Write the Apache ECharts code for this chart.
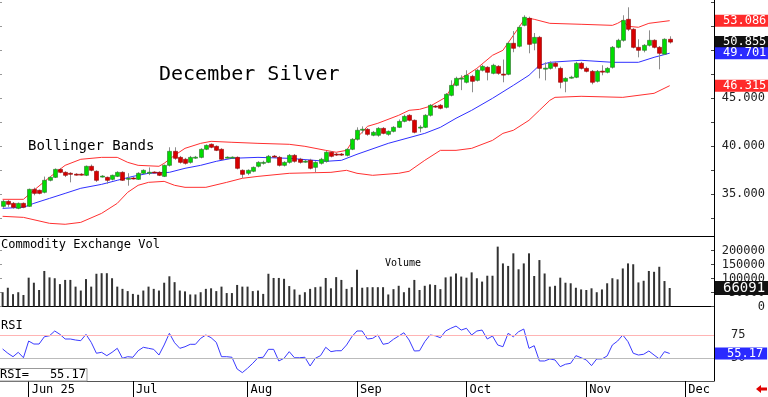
<!DOCTYPE html>
<html>
<head>
<meta charset="utf-8">
<script src="https://cdn.jsdelivr.net/npm/echarts@6/dist/echarts.min.js"></script>
<style>
html, body { margin: 0; padding: 0; background: #fff; }
#chart { width: 768px; height: 397px; }
</style>
</head>
<body>
<div id="chart"></div>
<script>
var MONO = 'DejaVu Sans Mono';

// daily candles, May 23 .. Nov 25 : [open, close, low, high]
var candles = [
  [33.75,34.27,33.6,34.4],[34.27,33.96,33.7,34.4],[34.06,33.65,33.5,34.2],[33.54,34.06,33.45,34.15],[34.06,33.65,33.55,34.15],
  [33.75,35.52,33.7,35.6],[35.52,35.10,34.9,35.7],[35.42,35.10,35.0,35.5],[35.21,36.46,35.1,36.85],[36.46,36.77,36.35,36.9],
  [36.77,37.60,36.7,37.7],[37.60,37.29,37.2,37.75],[37.29,36.98,36.8,37.4],[37.19,37.10,36.25,37.3],[37.10,37.05,36.95,37.2],
  [37.10,37.05,36.95,37.2],[36.98,37.92,36.9,38.0],[37.92,37.50,37.4,38.1],[37.40,36.46,36.3,37.5],[36.85,36.90,36.75,37.0],
  [36.77,36.46,36.1,36.85],[36.56,36.98,36.45,37.05],[36.87,37.29,36.8,37.4],[37.29,36.46,36.4,37.4],[36.65,36.67,35.9,37.2],
  [36.70,36.65,36.55,36.8],[36.56,37.19,36.5,37.3],[37.19,37.50,37.1,37.6],[37.28,37.30,37.0,37.8],[37.32,37.28,37.2,37.4],
  [37.29,36.98,36.9,37.4],[36.87,38.02,36.8,38.1],[38.02,39.48,37.9,39.9],[39.48,38.75,38.6,39.9],[38.85,38.33,38.2,39.0],
  [38.65,38.23,38.1,38.8],[38.33,38.85,38.2,39.0],[38.85,38.87,38.7,39.0],[38.85,39.69,38.75,39.8],[39.69,40.10,39.6,40.2],
  [40.21,39.90,39.8,40.3],[40.00,39.58,39.5,40.1],[39.69,38.65,38.55,39.8],[38.83,38.87,38.75,38.95],[38.83,38.87,38.75,38.95],
  [38.85,37.71,37.6,38.95],[37.50,37.08,36.7,37.6],[37.19,37.50,37.0,37.6],[37.40,37.81,37.3,37.9],[37.92,38.33,37.8,38.45],
  [38.23,38.33,38.1,38.5],[38.33,38.96,38.25,39.1],[38.98,38.94,38.8,39.1],[38.85,38.02,37.9,39.0],[38.02,38.33,37.9,38.45],
  [38.33,39.06,38.2,39.2],[39.06,38.44,38.3,39.2],[38.65,38.33,38.2,38.8],[38.43,38.45,38.3,38.6],[38.54,37.71,37.6,38.7],
  [37.81,38.33,37.29,38.45],[38.23,38.65,38.1,38.8],[38.44,39.38,38.3,39.5],[39.38,38.96,38.85,39.5],[39.19,39.15,39.0,39.3],
  [39.19,39.15,39.0,39.3],[39.06,39.69,38.95,39.8],[39.69,40.73,39.6,40.85],[40.73,41.67,40.6,41.98],[41.75,41.78,41.35,42.08],
  [41.77,41.25,41.1,41.9],[41.15,41.46,41.05,41.6],[41.15,41.87,41.0,42.0],[41.87,41.35,41.25,42.0],[41.25,41.56,41.1,41.65],
  [41.56,41.98,41.45,42.1],[41.98,42.60,41.9,42.8],[42.60,43.12,42.5,43.3],[43.23,42.71,42.6,43.35],[42.71,41.46,41.35,42.8],
  [41.97,42.00,41.46,42.2],[41.98,43.23,41.9,43.35],[43.23,44.27,43.1,44.4],[44.19,44.15,44.0,44.3],[44.27,43.96,43.85,44.4],
  [44.06,45.42,43.95,45.55],[45.31,46.35,45.2,46.87],[46.35,47.08,46.25,47.25],[47.06,47.10,45.85,47.4],[46.67,47.40,46.55,47.92],
  [47.29,46.77,45.63,47.45],[46.87,47.92,46.75,48.05],[47.92,48.33,47.8,48.5],[48.23,47.71,46.87,48.35],[47.60,48.44,47.5,48.6],
  [48.33,47.60,47.45,48.45],[47.52,47.48,46.67,49.04],[47.50,50.73,47.4,50.9],[50.73,50.21,49.8,52.0],[50.42,52.40,50.3,52.6],
  [52.60,53.44,52.5,53.65],[53.33,50.62,49.69,53.5],[50.73,51.35,50.0,51.8],[51.35,48.12,47.08,51.5],[48.10,48.14,46.87,48.75],
  [48.12,48.65,48.0,48.85],[48.65,48.33,48.1,48.8],[48.12,46.67,46.04,48.3],[46.77,47.08,45.63,47.2],[47.17,47.20,47.05,47.35],
  [47.19,48.65,47.1,48.8],[48.65,48.12,48.0,48.8],[48.12,47.81,47.7,48.3],[47.81,46.67,46.46,47.95],[46.77,47.81,46.65,47.95],
  [47.83,47.79,47.4,48.44],[47.71,48.12,47.6,48.25],[48.23,50.31,48.1,50.45],[50.31,51.04,50.2,51.2],[51.04,53.12,50.9,53.65],
  [53.23,52.19,52.0,54.48],[52.19,50.31,50.2,52.3],[50.31,50.00,49.27,51.15],[50.00,50.52,49.79,50.65],[50.52,51.04,50.4,52.08],
  [51.04,50.31,50.2,51.15],[50.31,49.69,48.02,50.45],[49.60,51.15,49.5,51.25],[51.15,50.855,50.7,51.46]
];

// Bollinger bands: [day index, value]
var upperBand = [[0,34.48],[4,34.48],[6,35.42],[9,36.77],[12,38.02],[15,38.65],[19,38.85],[22,38.85],[24,38.33],[26,38.02],
  [30,37.92],[31,38.23],[33,39.06],[35,39.79],[38,40.31],[40,40.52],[44,40.42],[49,40.31],[55,40.21],[58,40.0],[62,39.58],
  [64,39.38],[66,39.58],[67,40.42],[69,41.46],[70,42.08],[72,42.40],[76,43.23],[78,43.75],[80,43.85],[82,44.17],[85,45.10],
  [87,46.87],[89,47.40],[91,48.12],[94,49.48],[96,50.0],[98,51.56],[100,53.12],[101,53.33],[102,53.23],[105,52.81],[111,52.71],
  [117,52.60],[118,52.81],[119,53.12],[120,52.50],[122,52.40],[124,52.81],[128,53.086]];
var middleBand = [[0,33.54],[4,33.65],[6,34.06],[9,34.58],[12,35.10],[15,35.63],[19,36.04],[22,36.46],[25,36.87],[28,37.19],
  [32,37.29],[35,37.71],[38,38.02],[41,38.44],[44,38.75],[49,38.85],[55,38.75],[62,38.44],[65,38.54],[68,39.17],[74,40.31],
  [81,41.35],[84,41.98],[87,42.92],[90,43.75],[94,45.0],[98,46.35],[101,47.40],[103,48.44],[105,48.75],[111,48.96],[117,48.75],
  [122,48.75],[125,49.27],[128,49.701]];
var lowerBand = [[0,32.71],[4,32.60],[9,31.98],[12,31.88],[15,32.08],[19,33.02],[22,34.06],[24,35.21],[26,35.94],[28,36.25],
  [31,36.35],[33,35.94],[35,35.73],[39,35.73],[43,36.25],[46,36.67],[49,36.87],[55,37.19],[63,37.29],[66,37.50],[68,37.19],
  [71,36.98],[76,37.19],[78,37.40],[81,38.54],[84,39.58],[87,39.58],[90,39.79],[94,40.62],[96,41.35],[98,41.67],[101,42.71],
  [103,43.75],[105,44.79],[106,45.10],[111,45.21],[119,45.10],[125,45.52],[128,46.315]];

var volumes = [
  51000,67000,44000,51000,41000,103000,85000,59000,127000,104000,101000,80000,95000,95000,71000,57000,
  98000,71000,117000,119000,119000,101000,71000,63000,55000,45000,42000,57000,71000,63000,57000,85000,
  108000,87000,57000,54000,43000,43000,51000,63000,65000,55000,71000,48000,48000,77000,71000,71000,
  55000,57000,45000,117000,102000,102000,99000,73000,61000,42000,51000,63000,69000,71000,102000,65000,
  105000,95000,63000,69000,131000,67000,69000,69000,69000,69000,
  43000,62000,74000,51000,67000,95000,59000,74000,79000,77000,62000,104000,107000,118000,107000,103000,
  122000,101000,89000,110000,110000,214000,154000,145000,190000,133000,154000,190000,109000,166000,118000,71000,
  74000,103000,85000,83000,67000,61000,59000,65000,51000,61000,83000,101000,97000,136000,154000,151000,
  86000,92000,127000,124000,142000,91000,66091
];

var rsi = [
  60.0,55.4,51.7,56.4,50.6,68.5,65.3,65.3,73.1,74.2,79.3,75.7,70.7,70.7,69.6,68.9,75.7,67.1,55.4,56.4,
  52.8,56.4,60.7,50.0,51.7,51.1,58.1,61.8,60.7,59.6,53.5,64.3,76.8,66.7,60.7,62.4,65.0,65.0,71.4,75.0,
  72.1,67.1,51.7,51.7,51.1,38.5,34.6,39.3,44.6,50.6,51.1,59.6,59.6,47.1,50.0,57.1,50.6,50.6,51.1,41.7,
  50.0,52.8,61.8,57.1,58.1,58.1,64.3,73.1,79.3,79.3,70.7,71.4,75.0,65.0,66.1,70.4,73.9,77.4,69.6,57.8,
  58.1,67.8,75.0,74.2,72.1,79.3,82.2,84.6,80.3,82.2,75.0,79.3,80.3,70.7,73.9,64.3,62.4,76.8,73.1,78.5,
  81.4,60.7,63.5,47.1,47.1,49.3,48.2,41.0,43.6,44.6,52.8,50.6,48.2,42.1,49.3,49.3,52.5,64.3,68.5,75.0,
  67.8,55.4,53.5,54.3,57.8,53.5,49.3,57.1,55.17
];

var tickIdx = [5, 25, 47, 68, 89, 112, 131];
var tickLabels = ['Jun 25', 'Jul', 'Aug', 'Sep', 'Oct', 'Nov', 'Dec'];
var priceLabels = [35, 40, 45, 50];
var priceTicks = [32.5, 35, 37.5, 40, 42.5, 45, 47.5, 50, 52.5, 55];
var volLabels = [0, 50000, 100000, 150000, 200000];
var rsiLabels = [50, 75];

var nCats = 137;
var cats = [];
for (var i = 0; i < nCats; i++) cats.push(String(i));
var last = candles.length - 1;

var chart = echarts.init(document.getElementById('chart'));

function renderCandle(params, api) {
  var i = api.value(0);
  var o = api.coord([i, api.value(1)]);
  var c = api.coord([i, api.value(2)]);
  var lo = api.coord([i, api.value(3)]);
  var hi = api.coord([i, api.value(4)]);
  var up = api.value(2) >= api.value(1);
  var cx = Math.round(o[0]);
  var top = Math.min(o[1], c[1]);
  var h = Math.max(Math.abs(o[1] - c[1]), 1);
  return {
    type: 'group',
    children: [
      { type: 'line', shape: { x1: cx + 0.5, y1: hi[1], x2: cx + 0.5, y2: lo[1] },
        style: { stroke: '#8c8c8c', lineWidth: 1 } },
      { type: 'rect', shape: { x: cx - 1.5, y: top, width: 4, height: h },
        style: { fill: up ? '#00dc00' : '#d80000', stroke: up ? '#2b6b2b' : '#900000', lineWidth: 0.6 } }
    ]
  };
}

function boxLabel(bg, digits, size, pad) {
  return {
    show: true, position: 'end', distance: 1,
    formatter: function (p) { return digits === null ? String(p.value) : Number(p.value).toFixed(digits); },
    color: '#fff', backgroundColor: bg, fontFamily: MONO, fontSize: size, lineHeight: size,
    padding: pad
  };
}
var hidden = { color: 'rgba(0,0,0,0)', width: 0 };

function xAx(g) {
  var a = {
    type: 'category', gridIndex: g, data: cats, boundaryGap: true,
    axisLine: { show: true, lineStyle: { color: '#000', width: 1 } },
    axisTick: { show: false }, axisLabel: { show: false }, splitLine: { show: false }
  };
  if (g === 2) {
    var isTick = function (idx) { return tickIdx.indexOf(idx) >= 0; };
    a.axisLine.lineStyle.color = '#555';
    a.axisTick = { show: true, interval: isTick, alignWithLabel: true, length: 16, lineStyle: { color: '#000' } };
    a.axisLabel = {
      show: true, interval: isTick, align: 'left', margin: 3, padding: [0, 0, 0, 3],
      formatter: function (v, idx) { return tickLabels[tickIdx.indexOf(idx)]; },
      color: '#000', fontFamily: MONO, fontSize: 12
    };
  }
  return a;
}

function rightAx(g, min, max, labels, ticks, fmt, align, margin) {
  return {
    type: 'value', gridIndex: g, position: 'right', min: min, max: max,
    axisLine: { show: true, lineStyle: { color: '#000' } },
    axisTick: { show: true, inside: true, length: 3, customValues: ticks, lineStyle: { color: '#444' } },
    axisLabel: { show: true, customValues: labels, formatter: fmt, align: align, margin: margin,
      color: '#222', fontFamily: MONO, fontSize: 12 },
    splitLine: { show: false }
  };
}
function leftAx(g, min, max, ticks) {
  return {
    type: 'value', gridIndex: g, position: 'left', min: min, max: max,
    axisLine: { show: false },
    axisTick: { show: true, inside: true, length: 2, customValues: ticks, lineStyle: { color: '#999' } },
    axisLabel: { show: false }, splitLine: { show: false }
  };
}

var option = {
  animation: false,
  backgroundColor: '#fff',
  textStyle: { fontFamily: MONO },
  grid: [
    { left: 0, width: 714, top: 0, height: 236 },
    { left: 0, width: 714, top: 236, height: 80 },
    { left: 0, width: 714, top: 316, height: 65 }
  ],
  xAxis: [xAx(0), xAx(1), xAx(2)],
  yAxis: [
    rightAx(0, 30.66, 55.24, priceLabels, priceTicks, function (v) { return v.toFixed(3); }, 'right', 51),
    leftAx(0, 30.66, 55.24, priceTicks),
    rightAx(1, -34000, 252000, volLabels, volLabels, function (v) { return String(v); }, 'right', 51),
    leftAx(1, -34000, 252000, volLabels),
    rightAx(2, 25.6, 95.4, rsiLabels, rsiLabels, function (v) { return String(v); }, 'left', 17)
  ],
  series: [
    {
      type: 'line', xAxisIndex: 0, yAxisIndex: 0, data: upperBand, symbol: 'none', z: 1, clip: false,
      lineStyle: { color: '#ff3030', width: 1 },
      markLine: { silent: true, precision: 3, symbol: ['none', 'none'], lineStyle: hidden,
        data: [{ yAxis: upperBand[upperBand.length - 1][1] }],
        label: boxLabel('#ff2a2a', 3, 12, [0, 3, 0, 8]) }
    },
    {
      type: 'line', xAxisIndex: 0, yAxisIndex: 0, data: middleBand, symbol: 'none', z: 1, clip: false,
      lineStyle: { color: '#3030ff', width: 1 },
      markLine: { silent: true, precision: 3, symbol: ['none', 'none'], lineStyle: hidden,
        data: [
          { yAxis: candles[last][1], label: boxLabel('#111', 3, 12, [0, 3, 0, 8]) },
          { yAxis: middleBand[middleBand.length - 1][1], label: boxLabel('#2a2aff', 3, 12, [0, 3, 0, 8]) }
        ] }
    },
    {
      type: 'line', xAxisIndex: 0, yAxisIndex: 0, data: lowerBand, symbol: 'none', z: 1, clip: false,
      lineStyle: { color: '#ff3030', width: 1 },
      markLine: { silent: true, precision: 3, symbol: ['none', 'none'], lineStyle: hidden,
        data: [{ yAxis: lowerBand[lowerBand.length - 1][1] }],
        label: boxLabel('#ff2a2a', 3, 12, [0, 3, 0, 8]) }
    },
    {
      type: 'custom', xAxisIndex: 0, yAxisIndex: 0, z: 3, clip: true,
      renderItem: renderCandle,
      encode: { x: 0, y: [1, 2, 3, 4] },
      data: candles.map(function (c, i) { return [i, c[0], c[1], c[2], c[3]]; })
    },
    {
      type: 'bar', xAxisIndex: 1, yAxisIndex: 2, data: volumes, barWidth: 2, clip: false,
      itemStyle: { color: '#333' },
      markLine: { silent: true, precision: 0, symbol: ['none', 'none'], lineStyle: hidden,
        data: [{ yAxis: volumes[last] }],
        label: boxLabel('#111', null, 14, [0, 4, 0, 8]) }
    },
    {
      type: 'line', xAxisIndex: 2, yAxisIndex: 4, data: rsi, symbol: 'none', clip: false,
      lineStyle: { color: '#3a3aff', width: 1 },
      markLine: { silent: true, precision: 2, symbol: ['none', 'none'],
        data: [
          { yAxis: 75, lineStyle: { color: '#ffb4b4', width: 1, type: 'solid' }, label: { show: false } },
          { yAxis: 50, lineStyle: { color: '#bbbbbb', width: 1, type: 'solid' }, label: { show: false } },
          { yAxis: rsi[last], lineStyle: hidden, label: boxLabel('#2a2aff', 2, 12, [0, 4, 0, 12]) }
        ] }
    }
  ],
  graphic: [
    { type: 'text', x: 159, y: 75, style: { text: 'December Silver', fill: '#000', font: '20px ' + MONO, verticalAlign: 'middle' } },
    { type: 'text', x: 28, y: 146.5, style: { text: 'Bollinger Bands', fill: '#000', font: '14px ' + MONO, verticalAlign: 'middle' } },
    { type: 'text', x: 1, y: 245, style: { text: 'Commodity Exchange Vol', fill: '#000', font: '12px ' + MONO, verticalAlign: 'middle' } },
    { type: 'text', x: 385, y: 263, style: { text: 'Volume', fill: '#000', font: '10px ' + MONO, verticalAlign: 'middle' } },
    { type: 'text', x: 1, y: 325.5, style: { text: 'RSI', fill: '#000', font: '12px ' + MONO, verticalAlign: 'middle' } },
    { type: 'rect', z: 100, shape: { x: -1, y: 368.5, width: 88, height: 12.5 }, style: { fill: '#fff', stroke: '#999', lineWidth: 1 } },
    { type: 'text', z: 101, x: 0, y: 375, style: { text: 'RSI=', fill: '#000', font: '12px ' + MONO, verticalAlign: 'middle' } },
    { type: 'text', z: 101, x: 86, y: 375, style: { text: rsi[last].toFixed(2), fill: '#000', font: '12px ' + MONO, align: 'right', verticalAlign: 'middle' } },
    { type: 'polygon', shape: { points: [[756, 389], [761, 385], [761, 387.5], [767, 387.5], [767, 390.5], [761, 390.5], [761, 393]] }, style: { fill: '#e00000' } }
  ]
};

chart.setOption(option);
</script>
</body>
</html>
